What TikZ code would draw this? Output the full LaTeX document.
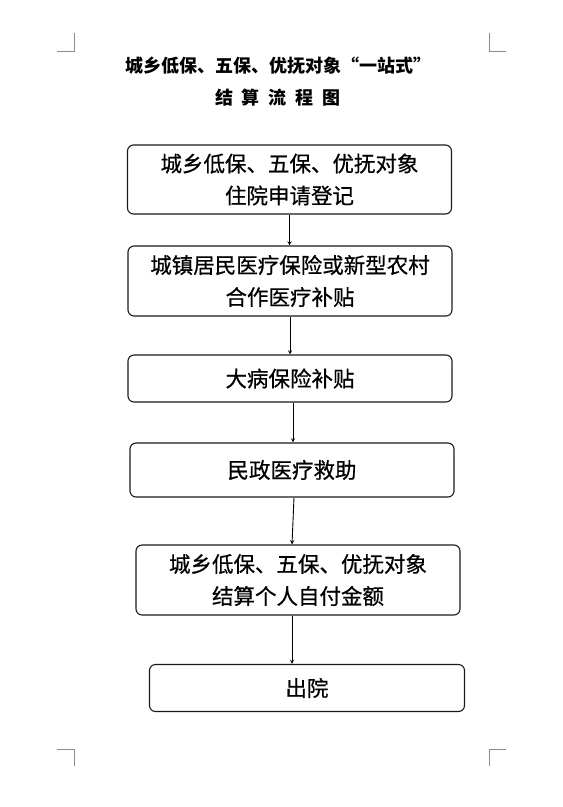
\documentclass[tikz,border=0pt]{standalone}
\usepackage{fontspec}
\newfontfamily\cjk[FakeBold=0.6]{Noto Sans CJK SC}
\newfontfamily\cjkttl{Noto Sans CJK SC}
\usepackage{xcolor}
\usepackage{tikz}
\usetikzlibrary{arrows,calc}
\definecolor{ink}{HTML}{1A1A1A}
\definecolor{mrk}{HTML}{8C8C8C}
\tikzset{
  box/.style  ={draw=ink, rounded corners=6pt, align=center, inner sep=0pt,
                font=\cjk\fontsize{21.5}{32}\selectfont, line width=1.1pt, text=black,
                minimum width=324pt},
  ttl/.style  ={font=\cjkttl\bfseries\fontsize{18}{32}\selectfont, align=center, text=black},
  flow/.style ={->,>=stealth, line width=.9pt, draw=black},
  crop/.style ={draw=mrk, line width=.9pt},
}
\begin{document}
\begin{tikzpicture}[x=1pt,y=1pt]
  \useasboundingbox (0,0) rectangle (563,-807);
  % crop marks
  \draw[crop](57,-51) -- (74,-51) -- (74,-33);
  \draw[crop](506,-51) -- (489,-51) -- (489,-33);
  \draw[crop](57,-749) -- (74,-749) -- (74,-766);
  \draw[crop](506,-749) -- (489,-749) -- (489,-766);
  \node[ttl] at (278,-82)(title){城乡低保、五保、优抚对象“一站式”\\结\enspace 算\enspace 流\enspace 程\enspace 图};
  \node[box, minimum height=69pt] at (289.5,-179.5)(apply){城乡低保、五保、优抚对象\\住院申请登记};
  \node[box, minimum height=70pt] at (290,-281)(insure){城镇居民医疗保险或新型农村\\合作医疗补贴};
  \node[box, minimum height=47pt] at (290,-378.5)(serious){大病保险补贴};
  \node[box, minimum height=54pt] at (292,-470)(aid){民政医疗救助};
  \node[box, minimum height=70pt] at (298,-580)(settle){城乡低保、五保、优抚对象\\结算个人自付金额};
  \node[box, minimum height=47pt, minimum width=315pt] at (307,-688)(discharge){出院};
  \draw[flow](apply.south) -- (apply.south |- insure.north);
  \draw[flow](insure.south) -- (insure.south |- serious.north);
  \draw[flow]([xshift=3pt]serious.south) -- ([xshift=3pt]serious.south |- aid.north);
  \draw[flow]([xshift=2pt]aid.south) -- ([xshift=-6pt]settle.north);
  \draw[flow]([xshift=-6pt]settle.south) -- ([xshift=-6pt]settle.south |- discharge.north);
\end{tikzpicture}
\end{document}
